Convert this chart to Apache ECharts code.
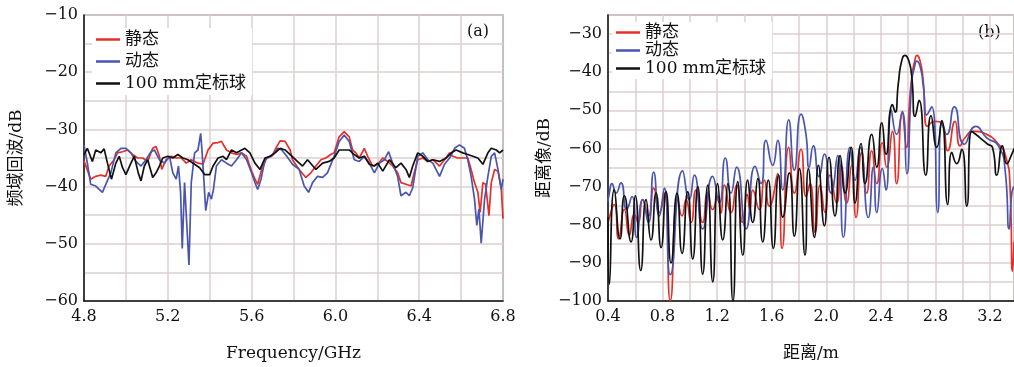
<!DOCTYPE html>
<html>
<head>
<meta charset="utf-8">
<script src="https://cdn.jsdelivr.net/npm/echarts@6/dist/echarts.min.js"></script>
<style>
  html, body { margin: 0; padding: 0; background: #fff; }
  #chart { width: 1014px; height: 367px; }
</style>
</head>
<body>
<div id="chart"></div>
<script>
// (a) frequency-domain echo, GHz / dB
const freqRedA = [4.800,4.832,4.856,4.880,4.904,4.920,4.944,4.960,4.984,5.008,5.032,5.056,5.080,5.104,5.128,5.144,5.160,5.171,5.192,5.216,5.240,5.264,5.288,5.312,5.344,5.368,5.392,5.416,5.440,5.456,5.480,5.504,5.528,5.552,5.576,5.600,5.616,5.629,5.648,5.672,5.696,5.720,5.736,5.760,5.784,
  5.795,5.827,5.859,5.883,5.907,5.931,5.954,5.978,5.994,6.018,6.042,6.066,6.082,6.098,6.114,6.138,6.154,6.178,6.202,6.226,6.250,6.273,6.297,6.313,6.337,6.361,6.372,6.393,6.417,6.441,6.465,6.497,6.521,6.545,6.561,6.584,6.608,6.632,6.648,6.664,6.680,6.691,6.704,6.717,6.733,6.744,6.760,6.776,6.792,6.800];
const dbRedA = [-35.5,-38.7,-38.2,-38.0,-38.2,-36.4,-35.3,-34.1,-33.9,-33.6,-34.4,-35.0,-35.0,-35.6,-33.3,-33.0,-34.7,-37.0,-35.3,-34.7,-35.0,-35.0,-35.9,-35.3,-35.9,-36.1,-33.6,-32.4,-32.3,-32.1,-33.6,-34.1,-34.4,-34.1,-34.7,-37.3,-38.7,-39.6,-37.0,-35.0,-34.7,-33.0,-32.0,-32.1,-33.6,
  -35.3,-37.0,-38.4,-37.6,-36.4,-35.3,-35.0,-34.4,-34.1,-31.3,-30.4,-31.3,-33.6,-34.1,-35.0,-33.3,-34.7,-36.4,-36.1,-35.0,-35.6,-36.4,-37.6,-39.3,-39.6,-39.9,-38.2,-35.3,-35.0,-35.6,-35.3,-36.4,-35.3,-34.1,-34.7,-35.0,-35.0,-35.0,-37.0,-39.3,-41.0,-44.5,-39.3,-39.6,-45.1,-39.3,-37.0,-37.3,-40.5,-45.6];

const freqBlueA = [4.800,4.816,4.832,4.856,4.888,4.904,4.928,4.952,4.976,5.000,5.024,5.048,5.072,5.096,5.120,5.136,5.160,5.184,5.208,5.224,5.240,5.251,5.261,5.269,5.280,5.301,5.312,5.328,5.344,5.357,5.363,5.373,5.381,5.395,5.408,5.418,5.432,5.456,5.480,5.504,5.528,5.552,5.576,5.600,5.616,5.629,5.645,5.664,5.688,5.704,5.725,5.744,5.768,
  5.795,5.827,5.851,5.872,5.891,5.915,5.939,5.962,5.994,6.018,6.042,6.066,6.090,6.114,6.138,6.162,6.186,6.210,6.234,6.254,6.273,6.297,6.313,6.337,6.353,6.369,6.393,6.417,6.441,6.465,6.497,6.521,6.545,6.569,6.592,6.616,6.632,6.648,6.664,6.675,6.685,6.696,6.712,6.728,6.744,6.760,6.776,6.792,6.800];
const dbBlueA = [-32.7,-35.9,-39.6,-39.9,-41.0,-39.6,-37.6,-34.1,-33.3,-33.3,-34.1,-35.6,-36.4,-35.3,-33.9,-33.6,-35.3,-35.9,-34.7,-37.6,-38.7,-36.4,-41.0,-50.8,-39.3,-53.7,-39.3,-34.1,-33.6,-30.7,-33.6,-39.3,-44.2,-41.0,-42.2,-40.5,-36.4,-35.3,-35.9,-36.4,-35.3,-34.1,-35.3,-37.6,-39.3,-40.5,-38.7,-35.3,-34.7,-34.4,-33.3,-33.6,-34.7,
  -36.1,-37.0,-39.9,-41.0,-39.3,-38.2,-38.4,-37.6,-34.7,-32.1,-31.0,-32.1,-35.3,-35.6,-34.7,-35.9,-37.6,-35.9,-35.3,-33.9,-35.9,-38.2,-41.6,-41.0,-41.6,-40.2,-34.7,-34.1,-35.3,-35.9,-38.2,-36.1,-35.0,-33.3,-32.7,-33.3,-35.3,-38.2,-42.2,-46.8,-43.9,-49.9,-42.2,-38.2,-34.7,-34.1,-37.0,-40.5,-38.7];

const freqBlackA = [4.800,4.816,4.840,4.856,4.880,4.896,4.912,4.931,4.952,4.968,4.984,5.000,5.024,5.040,5.059,5.072,5.088,5.104,5.128,5.144,5.160,5.176,5.200,5.224,5.248,5.272,5.296,5.328,5.352,5.376,5.400,5.416,5.440,5.464,5.480,5.504,5.528,5.568,5.592,5.616,5.640,5.664,5.688,5.712,5.736,5.760,5.784,
  5.843,5.867,5.907,5.939,5.970,5.994,6.018,6.066,6.090,6.114,6.138,6.162,6.186,6.202,6.226,6.258,6.289,6.313,6.337,6.353,6.369,6.393,6.417,6.441,6.465,6.497,6.529,6.553,6.576,6.608,6.632,6.656,6.680,6.704,6.728,6.744,6.768,6.784,6.800];
const dbBlackA = [-34.4,-33.3,-35.6,-33.6,-34.1,-33.4,-35.9,-38.7,-35.9,-34.7,-36.7,-37.9,-35.9,-34.7,-37.6,-39.0,-36.4,-35.3,-38.4,-37.6,-36.4,-35.0,-34.7,-35.0,-34.4,-35.0,-35.3,-36.1,-36.7,-37.9,-37.9,-36.4,-35.0,-34.7,-35.3,-33.6,-34.1,-33.3,-34.1,-35.9,-37.0,-35.0,-34.7,-34.1,-33.3,-33.6,-34.4,
  -36.4,-35.3,-37.0,-35.9,-35.6,-35.0,-33.6,-33.6,-34.4,-35.0,-34.7,-36.1,-36.4,-35.9,-37.3,-35.3,-36.7,-35.9,-37.0,-38.4,-36.4,-34.1,-34.7,-35.6,-35.3,-35.6,-35.0,-34.1,-33.6,-34.1,-34.4,-34.7,-35.0,-36.1,-34.1,-33.3,-33.6,-34.1,-33.6];

// (b) range profile, m / dB
const distRedB = [0.400,0.410,0.446,0.478,0.520,0.556,0.593,0.622,0.654,0.696,0.735,0.776,0.813,0.857,0.911,0.943,0.972,1.009,1.045,1.094,1.131,1.167,1.205,1.228,1.253,1.302,1.343,1.387,1.420,1.440,1.461,1.509,1.546,1.583,1.644,1.676,1.725,1.766,1.815,1.852,1.881,1.918,1.955,1.991,2.027,2.076,2.108,2.149,2.186,2.218,2.259,2.296,2.333,2.370,2.411,2.443,2.485,2.516,2.557,2.589,2.609,2.628,2.648,2.665,2.685,2.709,2.740,2.800,2.846,2.890,2.944,2.981,3.017,3.078,3.176,3.262,3.311,3.347,3.365,3.376];
const dbRedB = [-80,-78.1,-74.7,-83.7,-76.0,-82.8,-77.3,-79.4,-73.4,-77.7,-70.4,-76.8,-71.7,-99.9,-73.4,-77.7,-73.4,-79.4,-70.9,-79.4,-71.7,-76.0,-72.5,-77,-69.6,-76.8,-69.6,-79.4,-72,-76,-70.9,-76.0,-68.3,-75.1,-66.6,-86.2,-59.7,-71.7,-60.2,-72.6,-69.2,-82.0,-69.6,-76.8,-67.0,-74.3,-64.4,-74.3,-64.4,-78.1,-61.0,-71.7,-60.6,-69.2,-58.5,-64.9,-55.5,-69.2,-50.8,-59.7,-48.6,-41.0,-37.1,-35.6,-36.7,-41.8,-54.2,-52.9,-53.3,-60.6,-52.9,-59.3,-57.2,-55.5,-56.3,-58.9,-61.5,-70.0,-92.2,-84.5];

const distBlueB = [0.400,0.410,0.429,0.459,0.495,0.537,0.576,0.610,0.654,0.696,0.735,0.776,0.813,0.857,0.947,0.996,1.033,1.094,1.167,1.216,1.260,1.302,1.343,1.412,1.478,1.522,1.558,1.607,1.644,1.681,1.725,1.766,1.815,1.850,1.874,1.905,1.947,1.986,2.035,2.084,2.125,2.174,2.211,2.248,2.308,2.345,2.370,2.411,2.438,2.475,2.516,2.557,2.590,2.626,2.646,2.663,2.687,2.711,2.736,2.773,2.817,2.846,2.883,2.939,3.012,3.096,3.176,3.262,3.311,3.340,3.360,3.376];
const dbBlueB = [-74,-71.7,-69.2,-71.7,-69.0,-76.0,-72.6,-83.3,-73.4,-79.4,-66.2,-77.7,-70.4,-93.1,-65.9,-73.4,-67.0,-81.1,-67.3,-74.3,-62.5,-71.7,-64.9,-81.1,-64.7,-69.2,-57.9,-64.4,-57.9,-70.9,-52.5,-65.7,-51.0,-56,-64.9,-59.3,-67.4,-61.5,-71.7,-61.9,-83.3,-59.7,-68.3,-59.7,-78.1,-64.9,-76.8,-65.3,-70.9,-49.9,-56.3,-50.3,-66.6,-42.7,-38.8,-37.1,-38.4,-43.5,-51.2,-49.1,-76.8,-53.3,-56.3,-49.1,-58.9,-54.2,-57.2,-59.3,-65.7,-81.1,-71.7,-70];

const distBlackB = [0.400,0.410,0.446,0.488,0.520,0.569,0.600,0.640,0.679,0.715,0.752,0.789,0.825,0.862,0.906,0.943,0.984,1.021,1.058,1.094,1.131,1.168,1.204,1.241,1.278,1.316,1.351,1.388,1.424,1.461,1.498,1.534,1.575,1.612,1.651,1.681,1.729,1.766,1.803,1.844,1.869,1.913,1.942,1.986,2.020,2.064,2.101,2.138,2.182,2.211,2.255,2.284,2.333,2.370,2.407,2.438,2.485,2.505,2.528,2.553,2.577,2.602,2.626,2.651,2.680,2.729,2.768,2.810,2.846,2.890,2.920,2.956,2.993,3.030,3.066,3.127,3.184,3.218,3.250,3.291,3.323,3.360,3.376];
const dbBlackB = [-78,-95.6,-70.8,-83.7,-72.4,-84.5,-72.4,-92,-73.4,-84,-71.7,-86,-71.3,-90,-71.7,-87.5,-71.3,-89,-70.0,-93,-69.6,-95,-69.2,-84,-69.2,-100,-68.7,-88,-68.3,-79.4,-67.9,-84.5,-68.3,-86.2,-67.0,-78,-66.4,-83,-65.3,-88,-65.3,-83.3,-64.4,-80.3,-62.3,-77.7,-61.9,-71.7,-59.7,-74.3,-58.7,-69.2,-56.3,-64.9,-53.3,-61.5,-48.5,-50.5,-43.0,-37.0,-35.6,-36.7,-41.0,-51.6,-47.4,-67.0,-51.4,-59.7,-52.7,-74.7,-61.0,-64.0,-60.2,-75.1,-55.5,-57.2,-58.9,-59.7,-67.0,-59.3,-64.0,-61.5,-60];

const seriesNames = ["静态", "动态", "100 mm定标球"];
const seriesColors = ["#e5302a", "#4a55ad", "#111111"];

const pairs = (xs, ys) => xs.map((x, i) => [x, ys[i]]);
const minus = (v) => (v < 0 ? "\u2212" + Math.abs(v) : String(v));

const serif = "'DejaVu Serif', 'Noto Sans CJK SC', serif";
const gridStyle = { color: "#dccfcf", width: 1.5 };
const tickText = { fontFamily: serif, fontSize: 16, color: "#111" };

function valueAxis(extra) {
  return Object.assign({
    type: "value",
    axisLine: { show: true, onZero: false, lineStyle: { color: "#111", width: 1.5 } },
    axisTick: { show: false },
    minorTick: { show: false, splitNumber: 2 },
    splitLine: { show: true, lineStyle: gridStyle },
    minorSplitLine: { show: true, lineStyle: gridStyle },
    nameLocation: "middle",
    nameTextStyle: { fontFamily: serif, fontSize: 17, color: "#111" },
  }, extra);
}

const chart = echarts.init(document.getElementById("chart"));

const lineSeries = (name, color, data, xi, smooth) => ({
  name: name,
  type: "line",
  xAxisIndex: xi,
  yAxisIndex: xi,
  data: data,
  symbol: "none",
  smooth: smooth,
  lineStyle: { color: color, width: 1.7 },
  itemStyle: { color: color },
  animation: false,
});

const legendBase = {
  orient: "vertical",
  icon: "rect",
  itemWidth: 24,
  itemHeight: 2.5,
  backgroundColor: "#fff",
  data: seriesNames,
  textStyle: { fontFamily: serif, fontSize: 17, color: "#111" },
};

const option = {
  backgroundColor: "#fff",
  grid: [
    { left: 84, top: 15, width: 419, height: 290, show: true, borderColor: "#444", borderWidth: 1.2 },
    { left: 608, top: 15, width: 406, height: 292, show: true, borderColor: "#444", borderWidth: 1.2 },
  ],
  xAxis: [
    valueAxis({
      gridIndex: 0, min: 4.8, max: 6.8, interval: 0.4,
      name: "Frequency/GHz", nameGap: 44,
      axisLabel: Object.assign({ margin: 8, formatter: (v) => v.toFixed(1) }, tickText),
    }),
    valueAxis({
      gridIndex: 1, min: 0.4, max: 3.376, interval: 0.4,
      name: "距离/m", nameGap: 44,
      axisLabel: Object.assign({ margin: 8, showMaxLabel: false, formatter: (v) => v.toFixed(1) }, tickText),
    }),
  ],
  yAxis: [
    valueAxis({
      gridIndex: 0, min: -60, max: -10, interval: 10,
      name: "频域回波/dB", nameGap: 59,
      axisLabel: Object.assign({ margin: 6, formatter: minus }, tickText),
    }),
    valueAxis({
      gridIndex: 1, min: -100, max: -25, interval: 10,
      name: "距离像/dB", nameGap: 55,
      axisLabel: Object.assign({ margin: 6, showMaxLabel: false, formatter: minus }, tickText),
    }),
  ],
  legend: [
    Object.assign({}, legendBase, { left: 92, top: 28, itemGap: 5, padding: [3, 6, 3, 4] }),
    Object.assign({}, legendBase, { left: 612, top: 22, itemGap: 1, padding: [2, 6, 2, 4] }),
  ],
  graphic: [
    { type: "text", left: 467, top: 24, style: { text: "(a)", font: "16px 'DejaVu Serif'", fill: "#111" } },
    { type: "text", left: 976, top: 24, style: { text: "(b)", font: "16px 'DejaVu Serif'", fill: "#111", backgroundColor: "#fff", padding: [1, 2] } },
  ],
  series: [
    lineSeries(seriesNames[0], seriesColors[0], pairs(freqRedA, dbRedA), 0, false),
    lineSeries(seriesNames[1], seriesColors[1], pairs(freqBlueA, dbBlueA), 0, false),
    lineSeries(seriesNames[2], seriesColors[2], pairs(freqBlackA, dbBlackA), 0, false),
    lineSeries(seriesNames[0], seriesColors[0], pairs(distRedB, dbRedB), 1, 0.6),
    lineSeries(seriesNames[1], seriesColors[1], pairs(distBlueB, dbBlueB), 1, 0.6),
    lineSeries(seriesNames[2], seriesColors[2], pairs(distBlackB, dbBlackB), 1, 0.6),
  ],
};

chart.setOption(option);
</script>
</body>
</html>
